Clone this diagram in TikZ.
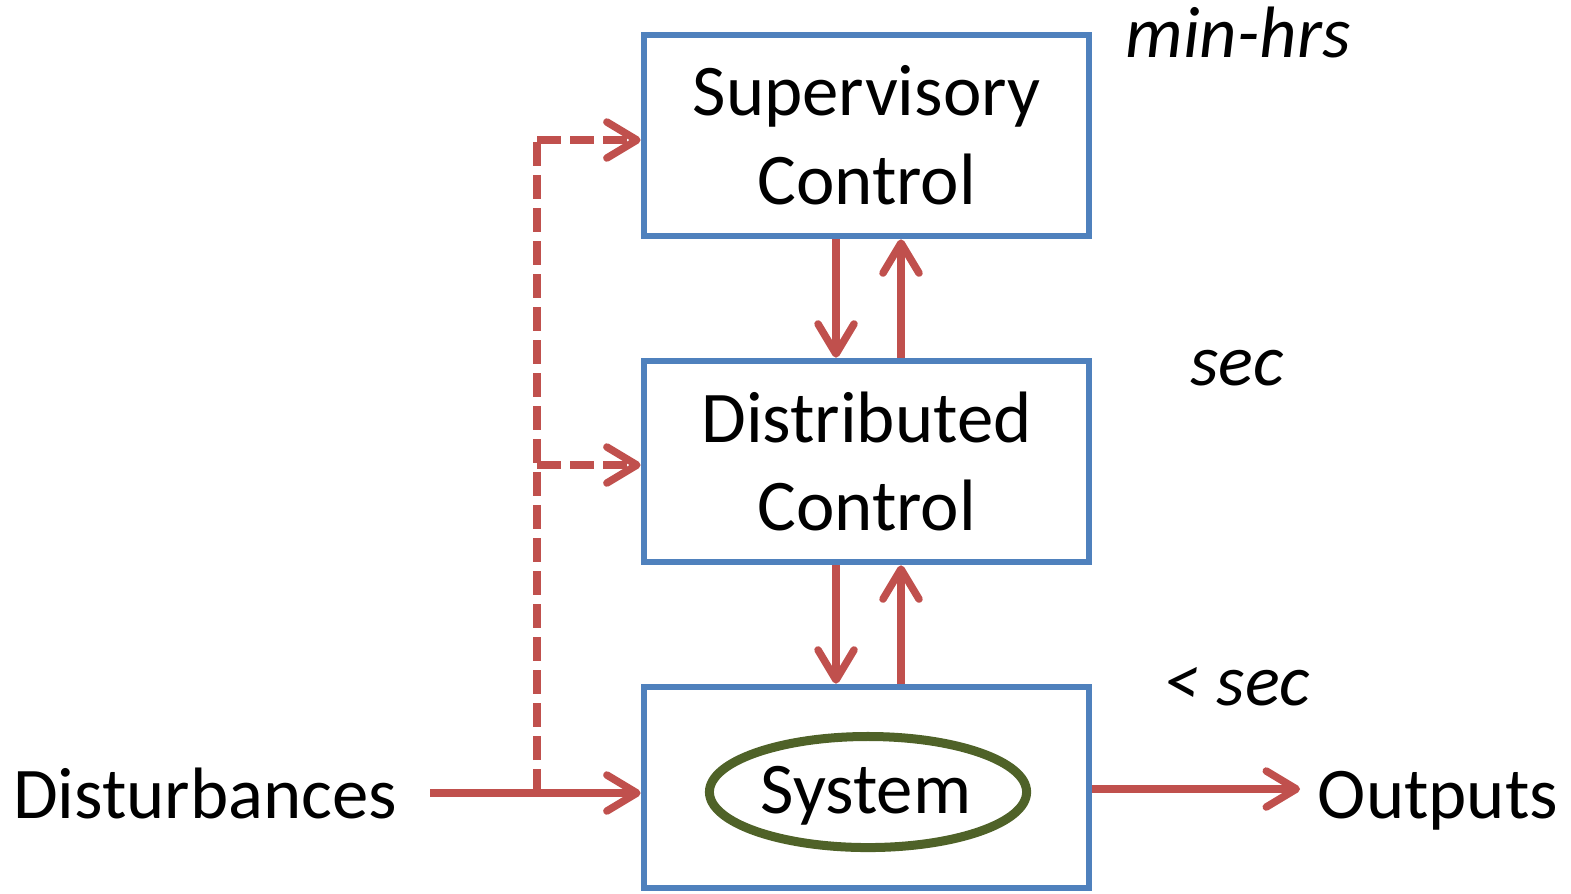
\documentclass[tikz,border=0pt]{standalone}
\usepackage{fontspec}
\setmainfont{Carlito}
\usetikzlibrary{arrows.meta,shapes.geometric}
\definecolor{bxblue}{HTML}{4F81BD}
\definecolor{arred}{HTML}{C0504D}
\definecolor{elgreen}{HTML}{4F6228}
\tikzset{
  box/.style={draw=bxblue, line width=0.065cm, minimum width=4.45cm, minimum height=2.01cm, inner sep=0pt, align=center, font=\fontsize{20.7}{25.2}\selectfont},
  arr/.style={draw=arred, line width=0.075cm, -{Straight Barb[length=0.3cm,width=0.36cm,line cap=round,line join=round]}},
  dash arr/.style={arr, dash pattern=on 0.24cm off 0.09cm},
  dash line/.style={draw=arred, line width=0.075cm, dash pattern=on 0.24cm off 0.09cm},
  lbl/.style={anchor=base, inner sep=0pt, font=\fontsize{20.7}{25.2}\selectfont},
  ilbl/.style={lbl, font=\fontsize{20.7}{25.2}\selectfont\itshape},
  sysell/.style={draw=elgreen, ellipse, line width=0.09cm, minimum width=3.17cm, minimum height=1.11cm, inner sep=0pt}
}
\begin{document}
\begin{tikzpicture}[x=0.01cm,y=-0.01cm]
\useasboundingbox (0,0) rectangle (1571,893);
\node[box] (sup) at (866.5,135.5) {Supervisory\\Control};
\node[box] (dist) at (866.5,461.5) {Distributed\\Control};
\node[box] (sys) at (866.5,787.5) {};
\node[sysell] (ell) at (868,792) {};
\node[lbl] (systxt) at (866,813) {System};
\node[ilbl] (t1) at (1238,57) {min-hrs};
\node[ilbl] (t2) at (1237,385) {sec};
\node[ilbl] (t3) at (1237,705) {< sec};
\node[lbl] (dtxt) at (205,818) {Disturbances};
\node[lbl] (otxt) at (1438,818) {Outputs};
\coordinate (xd) at (836,0);
\coordinate (xu) at (901,0);
\coordinate (br) at (537,793);
\coordinate (din) at (430,793);
\coordinate (yd1) at (0,140);
\coordinate (yd2) at (0,465);
\coordinate (oend) at (1300,789);
\draw[arr] (sup.south -| xd) -- (dist.north -| xd);
\draw[arr] (dist.north -| xu) -- (sup.south -| xu);
\draw[arr] (dist.south -| xd) -- (sys.north -| xd);
\draw[arr] (sys.north -| xu) -- (dist.south -| xu);
\draw[arr] (din) -- (sys.west |- din);
\draw[dash line] (br) -- (br |- yd1);
\draw[dash arr] (br |- yd1) -- (sup.west |- yd1);
\draw[dash arr] (br |- yd2) -- (dist.west |- yd2);
\draw[arr] (sys.east |- oend) -- (oend);
\end{tikzpicture}
\end{document}
